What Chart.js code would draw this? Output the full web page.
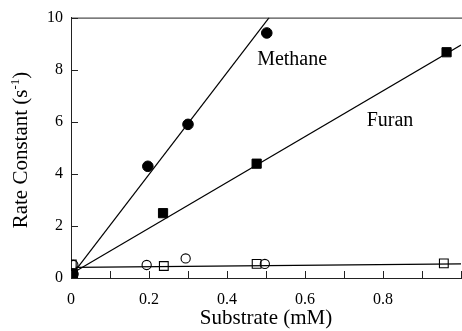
<!DOCTYPE html>
<html><head><meta charset="utf-8">
<script src="https://cdn.jsdelivr.net/npm/chart.js@4/dist/chart.umd.min.js"></script>
<style>html,body{margin:0;padding:0;background:#fff}canvas{display:block}</style>
</head><body>
<canvas id="c" width="462" height="331"></canvas>
<script>
// Measured rate constants (s^-1) versus substrate concentration (mM)
const methaneX = [0.005, 0.197, 0.300, 0.502];
const methaneY = [0.15, 4.29, 5.90, 9.41];
const furanX   = [0.005, 0.236, 0.476, 0.963];
const furanY   = [0.15, 2.49, 4.39, 8.67];
const openCircleX = [0.006, 0.194, 0.294, 0.497];
const openCircleY = [0.50, 0.50, 0.75, 0.54];
const openSquareX = [0.002, 0.238, 0.476, 0.956];
const openSquareY = [0.52, 0.46, 0.54, 0.56];

// Linear fits (end points)
const methaneFitX = [0.012, 0.508];
const methaneFitY = [0.30, 10.0];
const furanFitX   = [0.012, 1.0];
const furanFitY   = [0.26, 8.95];
const flatFitX    = [0.012, 1.0];
const flatFitY    = [0.41, 0.54];

// Axis ticks
const xTickValues = [0, 0.2, 0.4, 0.6, 0.8];
const yTickValues = [0, 2, 4, 6, 8, 10];

const pts = (xs, ys) => xs.map((x, i) => ({x, y: ys[i]}));
const SERIF = '"Liberation Serif", "Times New Roman", serif';

const decorations = {
  id: 'decorations',
  afterDraw(chart) {
    const {ctx, chartArea: a, scales: {x, y}} = chart;
    ctx.save();
    ctx.strokeStyle = '#222';
    ctx.lineWidth = 1;
    // top frame line
    ctx.beginPath();
    ctx.moveTo(a.left, a.top + 0.5);
    ctx.lineTo(a.right + 2, a.top + 0.5);
    ctx.stroke();
    // inward tick marks on the x axis
    ctx.beginPath();
    x.ticks.forEach(t => {
      const px = Math.round(x.getPixelForValue(t.value)) + 0.5;
      ctx.moveTo(px, a.bottom);
      ctx.lineTo(px, a.bottom - 7);
    });
    // inward tick marks on the y axis
    y.ticks.forEach(t => {
      const py = Math.round(y.getPixelForValue(t.value)) + 0.5;
      ctx.moveTo(a.left, py);
      ctx.lineTo(a.left + 7, py);
    });
    ctx.stroke();

    // series labels
    ctx.fillStyle = '#000';
    ctx.font = '20px ' + SERIF;
    ctx.textAlign = 'center';
    ctx.textBaseline = 'middle';
    ctx.fillText('Methane', x.getPixelForValue(0.567), y.getPixelForValue(8.39));
    ctx.fillText('Furan', x.getPixelForValue(0.818), y.getPixelForValue(6.02));

    // y axis title with superscript
    ctx.translate(20, 150);
    ctx.rotate(-Math.PI / 2);
    const big = '21px ' + SERIF, small = '13px ' + SERIF;
    const p1 = 'Rate Constant (s', p2 = '-1', p3 = ')';
    ctx.font = big; const w1 = ctx.measureText(p1).width, w3 = ctx.measureText(p3).width;
    ctx.font = small; const w2 = ctx.measureText(p2).width;
    let sx = -(w1 + w2 + w3) / 2;
    ctx.textAlign = 'left';
    ctx.textBaseline = 'alphabetic';
    ctx.font = big; ctx.fillText(p1, sx, 7); sx += w1;
    ctx.font = small; ctx.fillText(p2, sx, -1); sx += w2;
    ctx.font = big; ctx.fillText(p3, sx, 7);
    ctx.restore();
  }
};

const lineDs = (xs, ys) => ({
  type: 'line', data: pts(xs, ys), borderColor: '#000', borderWidth: 1.2,
  pointRadius: 0, fill: false, tension: 0
});
const markerDs = (xs, ys, style, r, filled) => ({
  type: 'scatter', data: pts(xs, ys), pointStyle: style, pointRadius: r,
  pointBackgroundColor: filled ? '#000' : 'rgba(0,0,0,0)',
  pointBorderColor: '#000', pointBorderWidth: filled ? 1 : 1.1, showLine: false
});

new Chart(document.getElementById('c'), {
  data: {
    datasets: [
      markerDs(methaneX, methaneY, 'circle', 5.3, true),
      markerDs(furanX, furanY, 'rect', 6.5, true),
      markerDs(openCircleX, openCircleY, 'circle', 4.6, false),
      markerDs(openSquareX, openSquareY, 'rect', 6.2, false),
      lineDs(methaneFitX, methaneFitY),
      lineDs(furanFitX, furanFitY),
      lineDs(flatFitX, flatFitY)
    ]
  },
  options: {
    responsive: false,
    animation: false,
    devicePixelRatio: 1,
    layout: {autoPadding: false, padding: {top: 17, right: 1, bottom: 0, left: 0}},
    plugins: {legend: {display: false}, tooltip: {enabled: false}},
    elements: {point: {hoverRadius: 0}},
    scales: {
      x: {
        type: 'linear', min: 0, max: 1.0,
        afterFit: s => { s.height = 53; s.paddingLeft = 0; s.paddingRight = 0; },
        grid: {display: false, drawTicks: false},
        border: {display: true, color: '#222', width: 1},
        ticks: {
          stepSize: 0.1, autoSkip: false, maxRotation: 0, padding: 12,
          color: '#000', font: {family: SERIF, size: 16},
          callback: v => {
            const hit = xTickValues.find(t => Math.abs(t - v) < 1e-6);
            return hit === undefined ? '' : (hit === 0 ? '0' : hit.toFixed(1));
          }
        },
        title: {display: true, text: 'Substrate (mM)', color: '#000',
                font: {family: SERIF, size: 21}, padding: {top: 0, bottom: 0}}
      },
      y: {
        type: 'linear', min: 0, max: 10,
        afterFit: s => { s.width = 71; },
        grid: {display: false, drawTicks: false},
        border: {display: true, color: '#222', width: 1},
        ticks: {
          stepSize: 2, padding: 8, color: '#000', font: {family: SERIF, size: 16},
          callback: v => yTickValues.includes(v) ? String(v) : ''
        }
      }
    }
  },
  plugins: [decorations]
});
</script>
</body></html>
